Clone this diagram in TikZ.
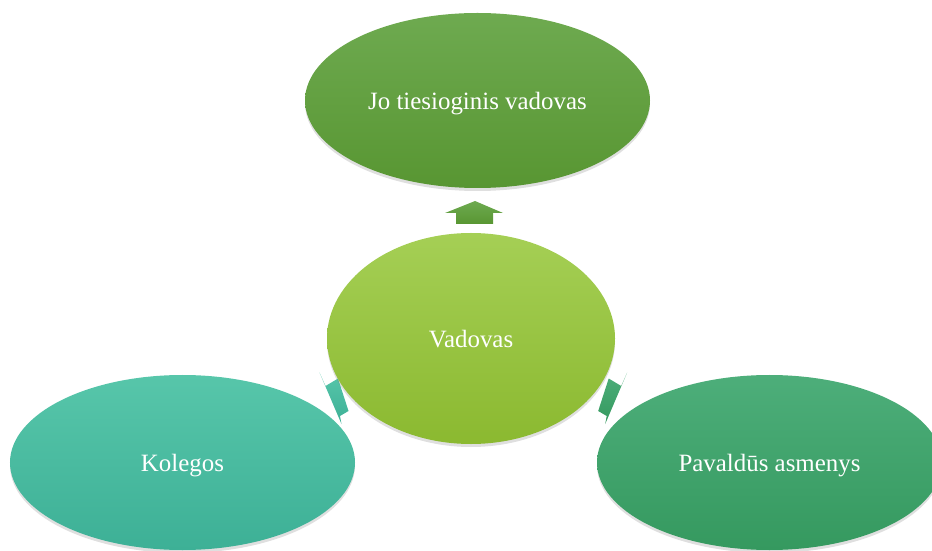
\documentclass[tikz,border=0pt]{standalone}
\usepackage{fontspec}
\setmainfont{Liberation Serif}
\usetikzlibrary{shapes.geometric,shadows}

\definecolor{bossTop}{RGB}{110,170,80}
\definecolor{bossBot}{RGB}{88,150,50}
\definecolor{vadTop}{RGB}{165,207,85}
\definecolor{vadBot}{RGB}{139,185,48}
\definecolor{kolTop}{RGB}{87,198,170}
\definecolor{kolBot}{RGB}{61,176,150}
\definecolor{pavTop}{RGB}{77,174,122}
\definecolor{pavBot}{RGB}{53,153,95}

\begin{document}
\begin{tikzpicture}[x=1bp,y=-1bp,
  bubble/.style={ellipse,inner sep=0pt,minimum width=345bp,minimum height=175bp,
    text=white,font=\fontsize{25}{30}\selectfont,text height=18bp,text depth=0pt,
    drop shadow={opacity=0.25,shadow xshift=0bp,shadow yshift=-3bp}},
  blockarrow/.style={draw=none}]
\useasboundingbox (0,0) rectangle (932,551);
\clip (0,0) rectangle (932,551);
\shade[blockarrow,top color=bossTop,bottom color=bossBot] (475,201) -- (503,213) -- (493,213) -- (493,224) -- (456,224) -- (456,213) -- (445,213) -- cycle;
\shade[blockarrow,top color=kolTop,bottom color=kolBot] (319.5,372.5) -- (325.5,386) -- (338,378.5) -- (348.5,411) -- (340,416) -- (341.5,424) -- cycle;
\shade[blockarrow,top color=pavTop,bottom color=pavBot] (627.2,372.5) -- (621.2,386) -- (608.7,378.5) -- (598.2,411) -- (606.7,416) -- (605.2,424) -- cycle;
\node[bubble,top color=bossTop,bottom color=bossBot] (boss) at (477.5,100.5) {Jo tiesioginis vadovas};
\node[bubble,minimum width=288bp,minimum height=211bp,top color=vadTop,bottom color=vadBot] (vad) at (471,338.5) {Vadovas};
\node[bubble,top color=kolTop,bottom color=kolBot] (kol) at (182.5,462.5) {Kolegos};
\node[bubble,top color=pavTop,bottom color=pavBot] (pav) at (769.5,462.5) {Pavaldūs asmenys};
\end{tikzpicture}
\end{document}
